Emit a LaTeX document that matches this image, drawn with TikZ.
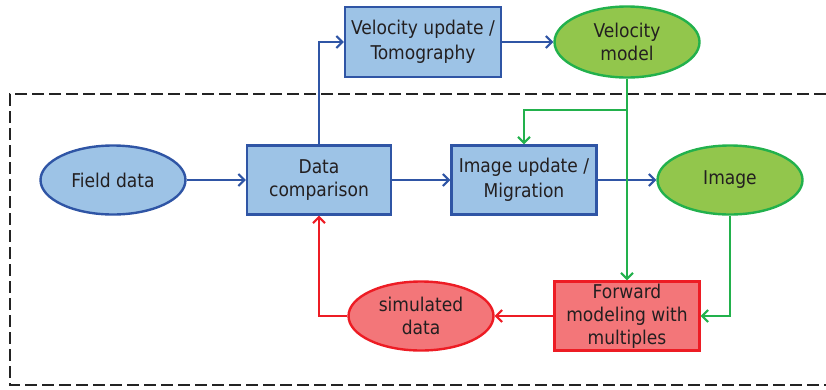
\documentclass[tikz,border=0pt]{standalone}
\usepackage{fontspec}
\setmainfont{DejaVu Sans Condensed}
\usetikzlibrary{arrows.meta,shapes.geometric}
\definecolor{bfill}{RGB}{157,195,230}
\definecolor{bline}{RGB}{47,85,165}
\definecolor{gfill}{RGB}{146,198,76}
\definecolor{gline}{RGB}{34,177,76}
\definecolor{rfill}{RGB}{243,118,121}
\definecolor{rline}{RGB}{237,28,36}
\definecolor{txt}{RGB}{35,31,32}
\tikzset{
  base/.style={minimum width=145pt, minimum height=69pt, inner sep=0pt, line width=2.4pt, align=center, text=txt, font=\fontsize{19}{23}\selectfont},
  bbox/.style={base, rectangle, draw=bline, fill=bfill},
  bell/.style={base, ellipse, draw=bline, fill=bfill},
  gell/.style={base, ellipse, draw=gline, fill=gfill},
  rbox/.style={base, rectangle, draw=rline, fill=rfill},
  rell/.style={base, ellipse, draw=rline, fill=rfill},
  conn/.style={line width=2pt, -{Straight Barb[length=6pt,width=12pt,line width=2pt]}},
  bconn/.style={conn, draw=bline},
  gconn/.style={conn, draw=gline},
  rconn/.style={conn, draw=rline},
}
\begin{document}
\begin{tikzpicture}[x=1pt,y=-1pt]
\useasboundingbox (0,0) rectangle (826,389);
\draw[line width=2.5pt, dash pattern=on 12pt off 5pt, draw={rgb,255:red,35;green,35;blue,35}] (826,94) -- (10,94) -- (10,385) -- (826,385);
\node[bell] (field) at (113,180) {Field data};
\node[bbox, minimum width=144pt] (comp) at (319,180) {Data\\comparison};
\node[bbox, minimum width=156pt, minimum height=70pt, font=\fontsize{19}{25}\selectfont] (vel) at (423,42) {Velocity update /\\Tomography};
\node[gell, minimum height=71pt] (vmod) at (627,42) {Velocity\\model};
\node[bbox, font=\fontsize{19}{25}\selectfont] (imu) at (524,180) {Image update /\\Migration};
\node[gell] (img) at (730,180) {Image};
\node[rbox] (fwd) at (627,316) {Forward\\modeling with\\multiples};
\node[rell] (sim) at (421,316) {simulated\\data};
\coordinate (br) at (627,110);
\draw[bconn] (field) -- (comp);
\draw[bconn] (comp) -- (imu);
\draw[bconn] (imu) -- (img);
\draw[bconn] (vel) -- (vmod);
\draw[bconn] (comp.north) |- (vel.west);
\draw[gconn] (vmod.south) -- (fwd.north);
\draw[gconn] (br) -| (imu.north);
\draw[gconn] (img.south) |- (fwd.east);
\draw[rconn] (fwd) -- (sim);
\draw[rconn] (sim.west) -| (comp.south);
\end{tikzpicture}
\end{document}
